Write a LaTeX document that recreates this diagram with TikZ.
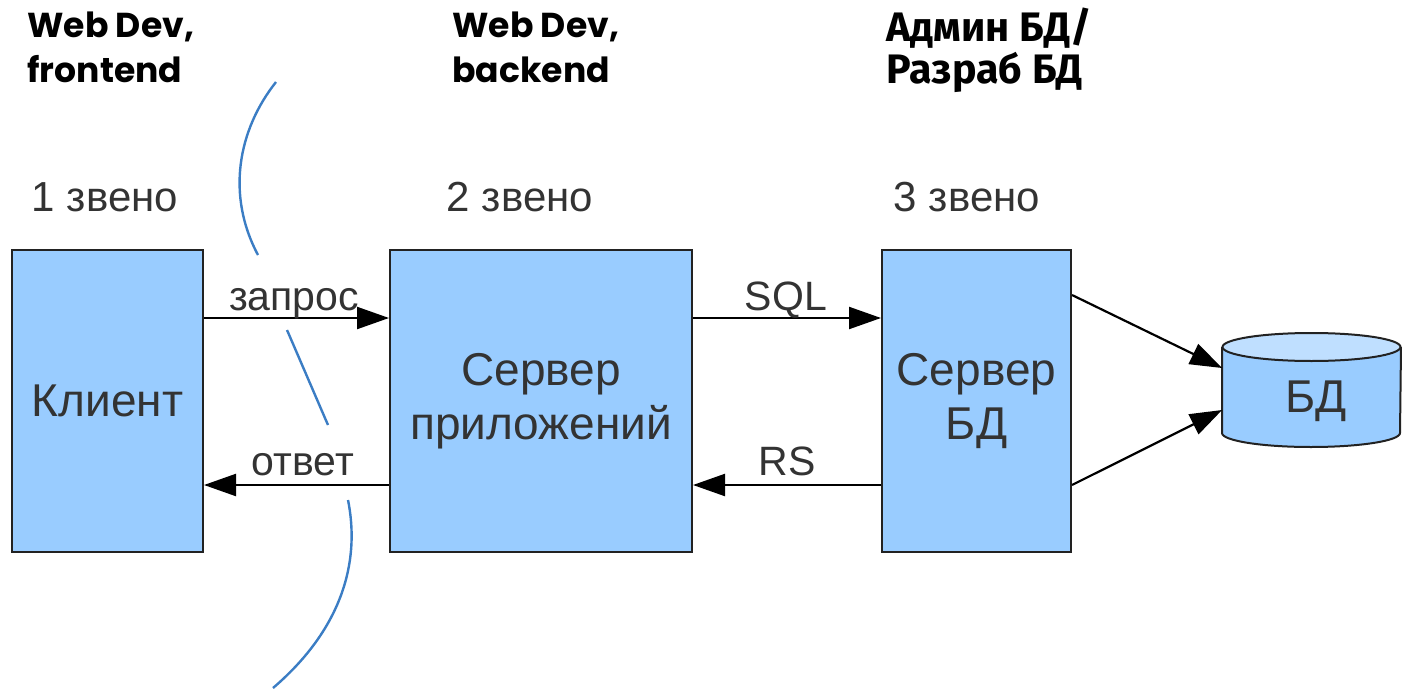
\documentclass[tikz,border=0pt]{standalone}
\usepackage{fontspec}
\setmainfont{Liberation Sans}
\newfontfamily\headlat{Poppins}
\newfontfamily\headcyr{Fira Sans}
\usetikzlibrary{arrows.meta}
\definecolor{boxfill}{HTML}{99CCFF}
\definecolor{topfill}{HTML}{BFDFFF}
\definecolor{edgecol}{HTML}{222222}
\definecolor{txt}{HTML}{333333}
\definecolor{curvecol}{HTML}{3B7DC4}
\tikzset{
  tier/.style={draw=edgecol, line width=1pt, fill=boxfill, minimum height=151pt, inner sep=0pt,
    font=\fontsize{23}{27}\selectfont, text=txt, align=center},
  arr/.style={line width=1.1pt, -{Triangle[length=16pt,width=11pt]}},
  lbl/.style={font=\fontsize{20.5}{24}\selectfont, text=txt, anchor=base, inner sep=0pt},
  head/.style={anchor=base west, align=left, inner sep=0pt},
  sep/.style={draw=curvecol, line width=1.2pt},
}
\begin{document}
\begin{tikzpicture}[x=0.5pt,y=-0.5pt]
\useasboundingbox (0,0) rectangle (1402,690);
% headings
\node[head, font=\headlat\fontsize{17.3}{22.5}\selectfont\bfseries] (h1) at (27,83) {Web Dev,\\frontend};
\node[head, font=\headlat\fontsize{17.3}{22.5}\selectfont\bfseries] (h2) at (452,83) {Web Dev,\\backend};
\node[head, font=\headcyr\fontsize{20.6}{21}\selectfont\bfseries] (h3) at (886,84) {Админ БД/\\Разраб БД};
% tier labels
\node[lbl, font=\fontsize{21}{24}\selectfont] (t1) at (105,211) {1 звено};
\node[lbl, font=\fontsize{21}{24}\selectfont] (t2) at (520,211) {2 звено};
\node[lbl, font=\fontsize{21}{24}\selectfont] (t3) at (967,211) {3 звено};
% boxes
\node[tier, minimum width=95.5pt] (client) at (107.5,401) {Клиент};
\node[tier, minimum width=151pt] (app) at (541,401) {Сервер\\приложений};
\node[tier, minimum width=94.5pt] (dbs) at (976.5,401) {Сервер\\БД};
% database cylinder
\node[minimum width=89pt, minimum height=50pt, inner sep=0pt] (db) at (1311.5,390) {};
\fill[boxfill] (1222,347) rectangle (1401,433);
\fill[boxfill] (1311.5,433) ellipse[x radius=44.5pt, y radius=7pt];
\draw[edgecol, line width=1pt] (1222,347) -- (1222,433) arc[start angle=180, end angle=360, x radius=44.5pt, y radius=7pt] -- (1401,347);
\draw[edgecol, line width=1pt, fill=topfill] (1311.5,347) ellipse[x radius=44.5pt, y radius=7pt];
\node[font=\fontsize{23}{27}\selectfont, text=txt, inner sep=0pt] (dbl) at (1316,401) {БД};
% connectors
\draw[arr] ([yshift=41.5pt]client.east) -- ([yshift=41.5pt]app.west);
\draw[arr] ([yshift=-42pt]app.west) -- ([yshift=-42pt]client.east);
\draw[arr] ([yshift=41.5pt]app.east) -- ([yshift=41.5pt]dbs.west);
\draw[arr] ([yshift=-42pt]dbs.west) -- ([yshift=-42pt]app.east);
\draw[arr] ([yshift=53pt]dbs.east) -- ([yshift=11pt]db.west);
\draw[arr] ([yshift=-42pt]dbs.east) -- ([yshift=-10pt]db.west);
% connector labels
\node[lbl] (lq) at (294,310) {запрос};
\node[lbl] (la) at (303,475) {ответ};
\node[lbl] (ls) at (786,310) {SQL};
\node[lbl] (lr) at (787,475) {RS};
% separator curve
\draw[sep] (276,82) .. controls (238,130) and (226,195) .. (258,255);
\draw[sep] (287,330) .. controls (300,360) and (315,395) .. (328,425);
\draw[sep] (348,500) .. controls (362,570) and (335,635) .. (273,688);
\end{tikzpicture}
\end{document}
